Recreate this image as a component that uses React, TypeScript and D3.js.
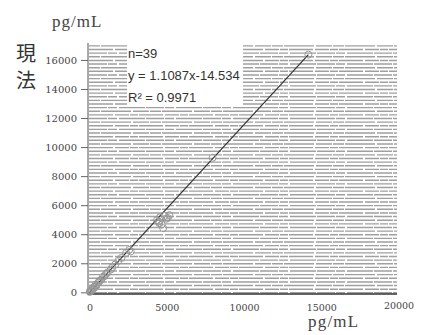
import { useEffect, useRef } from "react";
import * as d3 from "d3";

// scatter values (x = reference method, y = current method), pg/mL
const xValues = [
    50, 80, 120, 150, 200, 250, 300, 350, 400, 450, 500, 600, 650, 700, 800, 900, 1000,
    1100, 1200, 1400, 1500, 1700, 1900, 2100, 2400, 2600, 2700,
    4400, 4500, 4600, 4700, 4800, 4900, 5100, 5200, 5000, 4550, 8000, 14200
];
const yValues = [
    60, 150, 110, 200, 260, 330, 300, 430, 420, 560, 520, 700, 760, 850, 900, 1100, 1150,
    1300, 1400, 1600, 1750, 1950, 2200, 2400, 2750, 2950, 2850,
    5000, 4900, 5200, 4700, 4450, 5300, 5150, 5350, 5100, 4800, 9300, 16400
];

// regression line endpoints as drawn on the scan
const fitX = [0, 14200];
const fitY = [-15, 16400];

const xTicks = [0, 5000, 10000, 15000, 20000];
const yTicks = [0, 2000, 4000, 6000, 8000, 10000, 12000, 14000, 16000];
const statLines = ["n=39", "y = 1.1087x-14.534", "R² = 0.9971"];

export default function App() {
    const svgRef = useRef<SVGSVGElement | null>(null);

    useEffect(() => {
        const svg = d3.select(svgRef.current);
        svg.selectAll("*").remove();

        const width = 425;
        const height = 335;
        svg.attr("width", width).attr("height", height);

        const x = d3.scaleLinear().domain([0, 20000]).range([89, 398]);
        const y = d3.scaleLinear().domain([-150, 17200]).range([295, 43]);

        // the scanned background stripes
        const stripes = d3.range(0, 17001, 250);
        svg.append("g")
            .selectAll("line")
            .data(stripes)
            .join("line")
            .attr("x1", 89)
            .attr("x2", 397)
            .attr("y1", d => y(d))
            .attr("y2", d => y(d))
            .attr("stroke", "#747474")
            .attr("stroke-width", 1.4)
            .attr("stroke-dasharray", (d, i) => i % 3 === 0 ? "18 1 9 2 26 1" : i % 3 === 1 ? "24 2 14 1 8 1" : "11 1 30 2 16 1")
            .attr("opacity", 0.68);

        // white area behind the statistics
        svg.append("rect")
            .attr("x", 127)
            .attr("y", 42)
            .attr("width", 116)
            .attr("height", 64)
            .attr("fill", "#fff");

        // axes
        svg.append("line")
            .attr("x1", 88).attr("x2", 88)
            .attr("y1", 43).attr("y2", 295)
            .attr("stroke", "#555").attr("stroke-width", 1);
        svg.append("line")
            .attr("x1", 88).attr("x2", 397)
            .attr("y1", 294).attr("y2", 294)
            .attr("stroke", "#333").attr("stroke-width", 1.3);

        svg.append("g")
            .selectAll("line")
            .data(yTicks)
            .join("line")
            .attr("x1", 81).attr("x2", 88)
            .attr("y1", d => y(d)).attr("y2", d => y(d))
            .attr("stroke", "#666");

        svg.append("g")
            .selectAll("text")
            .data(yTicks)
            .join("text")
            .attr("x", 77)
            .attr("y", d => y(d))
            .attr("dy", "0.36em")
            .attr("text-anchor", "end")
            .attr("fill", "#444")
            .style("font-family", "'DejaVu Serif', serif")
            .style("font-size", "10px")
            .text(d => d);

        svg.append("g")
            .selectAll("text")
            .data(xTicks)
            .join("text")
            .attr("x", d => x(d) + 1)
            .attr("y", (d, i) => i === xTicks.length - 1 ? 309 : 311)
            .attr("text-anchor", "middle")
            .attr("fill", "#444")
            .style("font-family", "'DejaVu Serif', serif")
            .style("font-size", "9.5px")
            .text(d => d);

        // regression line
        const fit = fitX.map((v, i) => [v, fitY[i]] as [number, number]);
        svg.append("path")
            .attr("d", d3.line().x(d => x(d[0])).y(d => y(d[1]))(fit))
            .attr("fill", "none")
            .attr("stroke", "#333")
            .attr("stroke-width", 1.2);

        // points
        const pts = xValues.map((v, i) => ({ x: v, y: yValues[i] }));
        svg.append("g")
            .selectAll("circle")
            .data(pts)
            .join("circle")
            .attr("cx", d => x(d.x))
            .attr("cy", d => y(d.y))
            .attr("r", 3.5)
            .attr("fill", "none")
            .attr("stroke", "#999")
            .attr("stroke-width", 1);

        // statistics text
        svg.append("g")
            .attr("fill", "#333")
            .style("font-family", "'Liberation Sans', sans-serif")
            .style("font-size", "13px")
            .selectAll("text")
            .data(statLines)
            .join("text")
            .attr("x", 128)
            .attr("y", (d, i) => 58 + i * 22)
            .text(d => d);

        // unit labels
        svg.append("text")
            .attr("x", 52).attr("y", 27)
            .attr("fill", "#444")
            .style("font-family", "'Liberation Serif', serif")
            .style("font-size", "17px")
            .style("letter-spacing", "1px")
            .text("pg/mL");
        svg.append("text")
            .attr("x", 308).attr("y", 327)
            .attr("fill", "#444")
            .style("font-family", "'Liberation Serif', serif")
            .style("font-size", "17px")
            .style("letter-spacing", "1.2px")
            .text("pg/mL");

        // vertical axis title
        ["現", "法"].forEach((c, i) => {
            svg.append("text")
                .attr("x", 16)
                .attr("y", 61 + i * 27)
                .attr("fill", "#333")
                .style("font-family", "'Noto Sans CJK JP', sans-serif")
                .style("font-size", "20px")
                .text(c);
        });
    }, []);

    return (
        <div style={{ position: "absolute", left: 0, top: 0 }}>
            <svg ref={svgRef} style={{ display: "block" }} />
        </div>
    );
}
